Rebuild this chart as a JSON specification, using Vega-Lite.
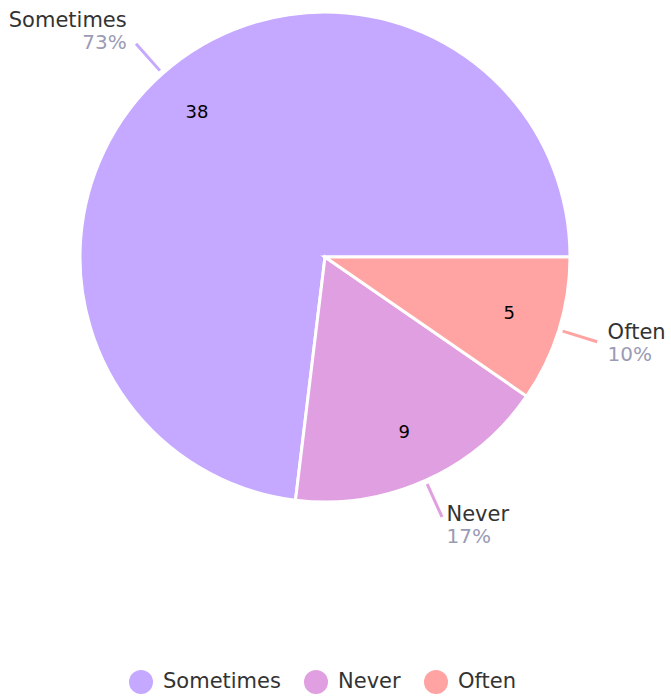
{
  "$schema": "https://vega.github.io/schema/vega-lite/v6.json",
  "width": 650,
  "height": 514,
  "autosize": {"type": "none"},
  "padding": {"left": 0, "top": 0, "right": 21, "bottom": 184},
  "background": "white",
  "config": {"view": {"stroke": null}, "font": "DejaVu Sans"},
  "data": {"values": [
    {"answer": "Sometimes", "count": 38},
    {"answer": "Never", "count": 9},
    {"answer": "Often", "count": 5}
  ]},
  "transform": [
    {"joinaggregate": [{"op": "sum", "field": "count", "as": "total"}]},
    {"window": [{"op": "sum", "field": "count", "as": "cum"}], "sort": [{"field": "count", "order": "ascending"}], "frame": [null, 0]},
    {"calculate": "(datum.cum - datum.count) / datum.total", "as": "start"},
    {"calculate": "datum.cum / datum.total", "as": "end"},
    {"calculate": "(datum.start + datum.end) / 2", "as": "mid"},
    {"calculate": "round(100 * datum.count / datum.total) + '%'", "as": "pct"}
  ],
  "layer": [
    {
      "mark": {"type": "arc", "outerRadius": 245, "stroke": "white", "strokeWidth": 3},
      "encoding": {
        "theta": {"field": "start", "type": "quantitative", "stack": null, "scale": {"domain": [0, 1], "range": [1.5707963, 7.8539816]}},
        "theta2": {"field": "end"},
        "color": {
          "field": "answer", "type": "nominal",
          "scale": {"domain": ["Sometimes", "Never", "Often"], "range": ["#c5a8ff", "#e09fe0", "#ffa3a3"]},
          "legend": {
            "title": null, "orient": "none", "direction": "horizontal",
            "legendX": 129, "legendY": 670,
            "symbolType": "circle", "symbolSize": 576, "symbolStrokeWidth": 0,
            "labelFontSize": 21, "labelColor": "#333333", "labelOffset": 10,
            "columnPadding": 23, "labelLimit": 300
          }
        }
      }
    },
    {
      "mark": {"type": "arc", "innerRadius": 249, "outerRadius": 285, "filled": false, "strokeWidth": 3},
      "encoding": {
        "theta": {"field": "mid", "type": "quantitative", "stack": null, "scale": {"domain": [0, 1], "range": [1.5707963, 7.8539816]}},
        "theta2": {"field": "mid"},
        "color": {"field": "answer", "type": "nominal", "legend": null}
      }
    },
    {
      "mark": {"type": "text", "radius": 193, "fontSize": 18, "color": "#000000"},
      "encoding": {
        "theta": {"field": "mid", "type": "quantitative", "stack": null, "scale": {"domain": [0, 1], "range": [1.5707963, 7.8539816]}},
        "text": {"field": "count", "type": "quantitative"}
      }
    },
    {
      "transform": [{"filter": "datum.mid < 0.25"}],
      "mark": {"type": "text", "radius": 296, "align": "left", "baseline": "alphabetic", "dy": -6, "fontSize": 21, "color": "#333333"},
      "encoding": {
        "theta": {"field": "mid", "type": "quantitative", "stack": null, "scale": {"domain": [0, 1], "range": [1.5707963, 7.8539816]}},
        "text": {"field": "answer"}
      }
    },
    {
      "transform": [{"filter": "datum.mid < 0.25"}],
      "mark": {"type": "text", "radius": 296, "align": "left", "baseline": "top", "dy": 0, "fontSize": 20, "color": "#9b9bb5"},
      "encoding": {
        "theta": {"field": "mid", "type": "quantitative", "stack": null, "scale": {"domain": [0, 1], "range": [1.5707963, 7.8539816]}},
        "text": {"field": "pct"}
      }
    },
    {
      "transform": [{"filter": "datum.mid >= 0.25"}],
      "mark": {"type": "text", "radius": 299, "align": "right", "baseline": "alphabetic", "dy": -6, "fontSize": 21, "color": "#333333"},
      "encoding": {
        "theta": {"field": "mid", "type": "quantitative", "stack": null, "scale": {"domain": [0, 1], "range": [1.5707963, 7.8539816]}},
        "text": {"field": "answer"}
      }
    },
    {
      "transform": [{"filter": "datum.mid >= 0.25"}],
      "mark": {"type": "text", "radius": 299, "align": "right", "baseline": "top", "dy": 0, "fontSize": 20, "color": "#9b9bb5"},
      "encoding": {
        "theta": {"field": "mid", "type": "quantitative", "stack": null, "scale": {"domain": [0, 1], "range": [1.5707963, 7.8539816]}},
        "text": {"field": "pct"}
      }
    }
  ]
}
